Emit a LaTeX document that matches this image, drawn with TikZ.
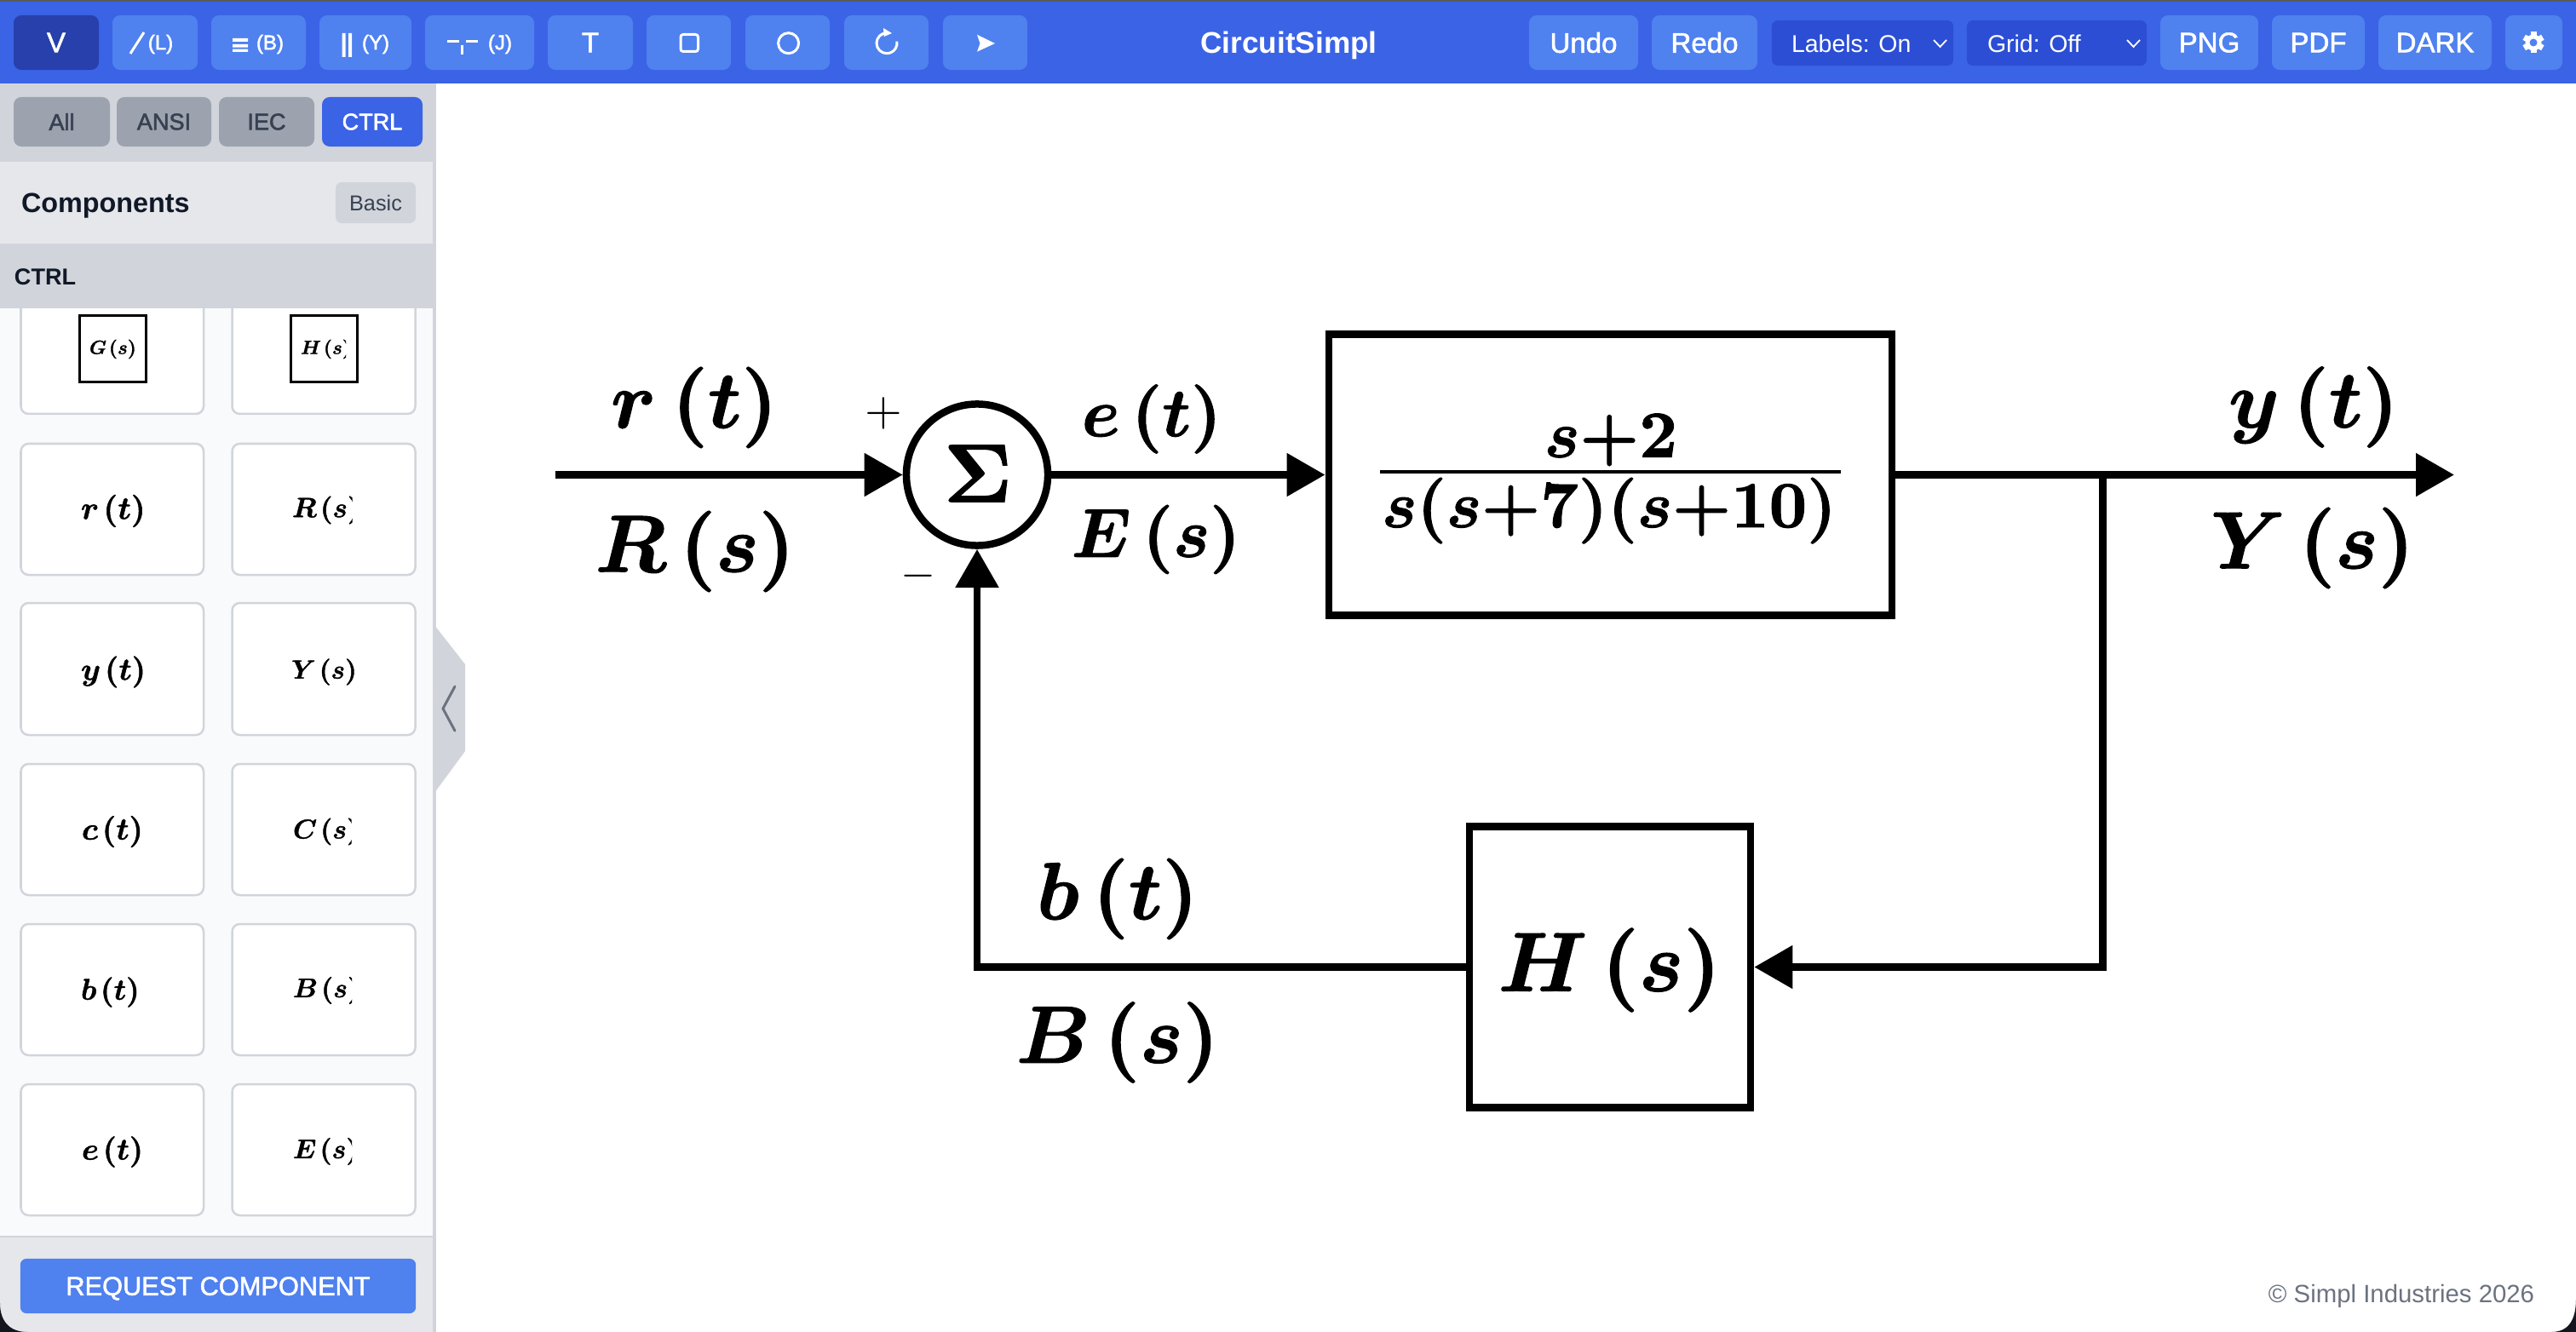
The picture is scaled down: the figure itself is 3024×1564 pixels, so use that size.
\documentclass[tikz,border=0pt]{standalone}
\usepackage[no-math]{fontspec}
\usepackage{amsmath}
\usetikzlibrary{arrows.meta,calc}
\newfontfamily\uif{Liberation Sans}
\definecolor{barblue}{HTML}{3B63E6}
\definecolor{btnblue}{HTML}{4F81EF}
\definecolor{activeblue}{HTML}{2740AB}
\definecolor{selblue}{HTML}{2C4ED4}
\definecolor{tabblue}{HTML}{3B63E6}
\definecolor{g50}{HTML}{F9FAFB}
\definecolor{g200}{HTML}{E5E7EB}
\definecolor{g300}{HTML}{D1D5DB}
\definecolor{g400}{HTML}{9CA3AF}
\definecolor{g500}{HTML}{6B7280}
\definecolor{g700}{HTML}{374151}
\definecolor{g900}{HTML}{111827}
\definecolor{cornerdark}{HTML}{14161F}
\definecolor{stripgrey}{HTML}{5A5A5A}
% slightly heavier glyphs: text drawn filled and stroked
\newcommand{\fb}[2]{\special{pdf:code 2 Tr #1 w}#2\special{pdf:code 0 Tr}}
\newcommand{\M}[1]{\fb{0.13}{$#1$}}
\newcommand{\Med}[1]{\fb{0.16}{#1}}
\tikzset{
  x=0.01cm,y=-0.01cm,
  ui/.style={inner sep=0pt,outer sep=0pt,font=\uif\fontsize{#1}{#1}\selectfont},
  btn/.style={ui=9.4,fill=btnblue,text=white,rounded corners=0.09cm,minimum height=0.64cm},
  actbtn/.style={btn,fill=activeblue},
  selbox/.style={ui=8.1,fill=selblue,text=white,rounded corners=0.07cm,minimum height=0.53cm,minimum width=0.01cm},
  tabbtn/.style={ui=7.7,fill=g400,text=g700,rounded corners=0.09cm,minimum height=0.58cm},
  smalllab/.style={ui=6.8,text=white},
  icon/.style={draw=white,line width=0.03cm},
  card/.style={fill=white,draw=g300,line width=0.025cm,rounded corners=0.09cm},
  mlab/.style={inner sep=0pt,outer sep=0pt,font=\boldmath,scale=#1},
  wire/.style={draw=black,line width=0.085cm},
  thintip/.style={-{Triangle[length=0.45cm,width=0.49cm]}},
  blockbox/.style={draw=black,line width=0.085cm,fill=white,inner sep=0pt},
}
\newcommand{\tbbtn}[5]{\node[#1,minimum width={(#4-#3)*0.01cm}] (#2) at ({(#3+#4)/2},50) {\Med{#5}};}
\newcommand{\tabb}[5]{\node[#1,minimum width={(#4-#3)*0.01cm}] (#2) at ({(#3+#4)/2},143) {\Med{#5}};}
\newcommand{\cardbox}[4]{\path[card] (#1,#2) rectangle (#3,#4);}
\newcommand{\clab}[6]{\begin{scope}\clip (0,{#3-60}) rectangle (#6,{#3+60});
  \node[mlab=#4,anchor=west] (#1) at (#2,#3) {\M{#5}};\end{scope}}
\begin{document}
\begin{tikzpicture}
\useasboundingbox (0,0) rectangle (3024,1564);
\fill[white] (0,0) rectangle (3024,1564);

% sidebar
\fill[g50] (0,362) rectangle (512,1452);
\fill[g300] (508,98) rectangle (512,1564);
\fill[g300] (510,734) -- (546,780) -- (546,882) -- (510,931) -- cycle;
\draw[g500,line width=0.03cm,line cap=round,line join=round] (534,806) -- (520,832) -- (534,858);

% component cards
\foreach \ya/\yb in {333/486,521/675,708/863,897/1051,1085/1239,1273/1427}{
  \cardbox{24.5}{\ya}{239}{\yb}
  \cardbox{272.5}{\ya}{487.5}{\yb}
}
\path[draw=black,line width=0.03cm,fill=white] (93,371) rectangle (171,449);
\path[draw=black,line width=0.03cm,fill=white] (341,371) rectangle (419,449);
\clab{lg}{105}{410}{0.64}{G\mkern2mu(s)}{157.5}
\clab{lh}{353}{410}{0.64}{H\mkern2mu(s)}{406}
\clab{lr}{95}{600}{1.08}{r\mkern2mu(t)}{240}
\clab{lR}{343}{599}{0.93}{R\mkern2mu(s)}{413.5}
\clab{ly}{95}{789}{1.05}{y\mkern2mu(t)}{240}
\clab{lY}{342}{789}{0.88}{Y\mkern2mu(s)}{416}
\clab{lc}{96}{976.5}{1.05}{c\mkern2mu(t)}{240}
\clab{lC}{344}{976.5}{0.9}{C\mkern2mu(s)}{412.5}
\clab{lb}{95}{1165}{1.0}{b\mkern2mu(t)}{240}
\clab{lB}{344}{1163}{0.9}{B\mkern2mu(s)}{413}
\clab{le}{96}{1352.5}{1.03}{e\mkern2mu(t)}{240}
\clab{lE}{344}{1352}{0.9}{E\mkern2mu(s)}{413}

% sidebar headers
\fill[g300] (0,98) rectangle (512,190);
\fill[g200] (0,190) rectangle (508,286);
\fill[g300] (0,286) rectangle (512,362);
\tabb{tabbtn}{tall}{16}{129}{All}
\tabb{tabbtn}{tansi}{137}{248}{ANSI}
\tabb{tabbtn}{tiec}{257}{369}{IEC}
\tabb{tabbtn,fill=tabblue,text=white}{tctrl}{378}{496}{CTRL}
\node[ui=9.2,anchor=west,text=g900,text depth=0pt] (comp) at (25,238.5) {\bfseries Components};
\node[ui=7.2,fill=g300,text=g700,rounded corners=0.07cm,minimum width=0.94cm,minimum height=0.48cm] (basic) at (441,238) {Basic};
\node[ui=7.7,anchor=west,text=g900] (ctrlh) at (17,325) {\bfseries CTRL};

% footer
\fill[g200] (0,1452) rectangle (508,1564);
\fill[g300] (0,1451) rectangle (512,1453);
\node[ui=8.75,fill=btnblue,text=white,text depth=0pt,rounded corners=0.07cm,minimum width=4.64cm,minimum height=0.64cm] (req) at (256,1510) {\Med{REQUEST COMPONENT}};

% toolbar
\fill[barblue] (0,0) rectangle (3024,98);
\fill[stripgrey] (0,0) rectangle (3024,2);
\tbbtn{actbtn}{bv}{16}{116}{V}
\tbbtn{btn}{bl}{132}{232}{}
\tbbtn{btn}{bb}{248}{359}{}
\tbbtn{btn}{by}{375}{483}{}
\tbbtn{btn}{bj}{499}{627}{}
\tbbtn{btn}{bt}{643}{743}{T}
\tbbtn{btn}{bs}{759}{858}{}
\tbbtn{btn}{bc}{875}{974}{}
\tbbtn{btn}{br}{991}{1090}{}
\tbbtn{btn}{ba}{1107}{1206}{}
\draw[icon] (153,63) -- (169,38);
\node[smalllab] (tl) at (188.5,52) {\Med{(L)}};
\fill[white] (273,45) rectangle (291,49) (273,52) rectangle (291,55.7) (273,57.7) rectangle (291,61);
\node[smalllab] (tb) at (317,52) {\Med{(B)}};
\fill[white] (401.7,39) rectangle (405.7,67) (409,39) rectangle (413,67);
\node[smalllab] (ty) at (441,52) {\Med{(Y)}};
\draw[icon] (525,49) -- (539,49) (547,49) -- (561,49) (542.7,53.5) -- (542.7,64);
\node[smalllab] (tj) at (587,52) {\Med{(J)}};
\draw[icon,rounded corners=0.03cm] (799,40.5) rectangle (819.5,60.5);
\draw[icon] (925.6,50.7) circle [radius=12];
\draw[icon] (1041,38.7) arc [start angle=-90,end angle=-370,radius=12];
\fill[white] (1037,33) -- (1047,39) -- (1037.7,43) -- cycle;
\fill[white] (1147,40.7) -- (1168,51) -- (1147,60.7) -- (1150.5,51) -- cycle;
\node[ui=10,text=white,text depth=0pt] (title) at (1513,49.5) {\bfseries CircuitSimpl};
\tbbtn{btn}{undo}{1795}{1923}{Undo}
\tbbtn{btn}{redo}{1939}{2063}{Redo}
\node[selbox,minimum width=2.13cm] (labs) at (2186.5,50.5) {};
\node[selbox,minimum width=2.11cm] (grid) at (2414.5,50.5) {};
\node[ui=8.1,anchor=west,text=white] (labt) at (2103,51) {Labels: On};
\node[ui=8.1,anchor=west,text=white] (gridt) at (2333,51) {Grid: Off};
\draw[white,line width=0.018cm] (2270,47) -- (2277.5,55) -- (2285,47);
\draw[white,line width=0.018cm] (2497,47) -- (2504.5,55) -- (2512,47);
\tbbtn{btn}{png}{2536}{2651}{PNG}
\tbbtn{btn}{pdf}{2667}{2776}{PDF}
\tbbtn{btn}{dark}{2792}{2925}{DARK}
\tbbtn{btn}{gear}{2941}{3008}{}
\foreach \a in {0,60,120}{
  \fill[white,rotate around={\a:(2974,50)}] (2970.5,37.5) rectangle (2977.5,62.5);
}
\fill[white] (2974,50) circle [radius=9.5];
\fill[btnblue] (2974,50) circle [radius=4.5];

% diagram blocks
\node[blockbox,circle,minimum size=1.66cm] (sum) at (1147,557.5) {};
\node[mlab=2.75] (sigma) at (1148,556) {\M{\Sigma}};
\node[blockbox,minimum width=6.61cm,minimum height=3.295cm] (gbox) at (1890.5,557.5) {};
\node[blockbox,minimum width=3.3cm,minimum height=3.3cm] (hbox) at (1890,1135.5) {};
\coordinate (inp) at (652,557.5);
\coordinate (outp) at (2881,557.5);
\coordinate (branch) at (2468.5,557.5);

% connectors
\draw[wire,thintip] (inp) -- (sum.west);
\draw[wire,thintip] (sum.east) -- (gbox.west);
\draw[wire,thintip] (gbox.east) -- (outp);
\draw[wire,thintip] (branch) |- (hbox.east);
\draw[wire,thintip] (hbox.west) -| (sum.south);

% transfer function
\node[mlab=2.22,anchor=base] (num) at (1891,536.7) {\M{s{+}2}};
\node[mlab=2.2,anchor=base] (den) at (1889,619) {\M{s(s{+}7)(s{+}10)}};
\coordinate (fa) at (1620,553.8);
\coordinate (fb) at (2161,553.8);
\draw[line width=0.037cm] (fa) -- (fb);

% diagram labels
\node[mlab=2.7] (rt) at (815,478.5) {\M{r\mkern3mu(t)}};
\node[mlab=2.7] (Rs) at (816,647.5) {\M{R\mkern2.6mu(s)}};
\node[mlab=2.3] (et) at (1352,492) {\M{e\mkern2.6mu(t)}};
\node[mlab=2.3] (Es) at (1357,633.5) {\M{E\mkern2.6mu(s)}};
\node[mlab=2.7] (yt) at (2716,478) {\M{y\mkern2.6mu(t)}};
\node[mlab=2.7] (Ys) at (2714.5,643.5) {\M{Y\mkern2.6mu(s)}};
\node[mlab=2.7] (bt) at (1312,1055.5) {\M{b\mkern2.6mu(t)}};
\node[mlab=2.7] (Bs) at (1312,1224) {\M{B\mkern2.6mu(s)}};
\node[mlab=2.8] (Hs) at (1889.5,1139) {\M{H\mkern2.6mu(s)}};
\node[inner sep=0pt,scale=1.6] (plus) at (1037,485) {$+$};
\node[inner sep=0pt,scale=1.5] (minus) at (1078,676) {$-$};

\node[ui=8.35,text=g500] (copy) at (2819,1522) {© Simpl Industries 2026};

% window corners
\fill[cornerdark] (0,1530) .. controls (0,1552) and (12,1564) .. (32,1564) -- (0,1564) -- cycle;
\fill[cornerdark] (3024,1525) .. controls (3024,1550) and (3015,1564) .. (2995,1564) -- (3024,1564) -- cycle;
\end{tikzpicture}
\end{document}
